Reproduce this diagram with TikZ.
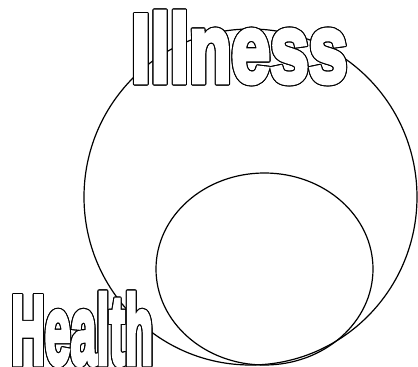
\documentclass[tikz,border=0pt]{standalone}
\usepackage{fontspec}
\usetikzlibrary{shapes.geometric}
\font\wordfont="Liberation Sans Bold:embolden=5" at 20pt
\newcommand\wordbox[3]{\resizebox{#1}{#2}{\wordfont #3}}
\tikzset{
  ring/.style={draw=black, line width=1.2pt, ellipse, inner sep=0pt},
  wordshadow/.style={anchor=base west, inner sep=0pt, text=black},
  wordface/.style={anchor=base west, inner sep=0pt, text=white}
}
\begin{document}
\begin{tikzpicture}[x=1pt,y=-1pt]
\useasboundingbox[fill=white] (0,0) rectangle (418,367);
\node[ring, minimum width=333pt, minimum height=336pt] (illnessring) at (250.5,197) {};
\node[ring, minimum width=217pt, minimum height=192pt] (healthring) at (264.5,269) {};
% Illness label (outlined)
\foreach \a in {0,30,...,330}{
  \node[wordshadow] at ([shift={(\a:1.1pt)}] 131,82) {\wordbox{216pt}{70pt}{Illness}};
}
\node[wordface] (illness) at (131,82) {\wordbox{216pt}{70pt}{Illness}};
% Health label (outlined)
\foreach \a in {0,30,...,330}{
  \node[wordshadow] at ([shift={(\a:1.1pt)}] 11,364) {\wordbox{142pt}{71pt}{Health}};
}
\node[wordface] (health) at (11,364) {\wordbox{142pt}{71pt}{Health}};
\end{tikzpicture}
\end{document}
